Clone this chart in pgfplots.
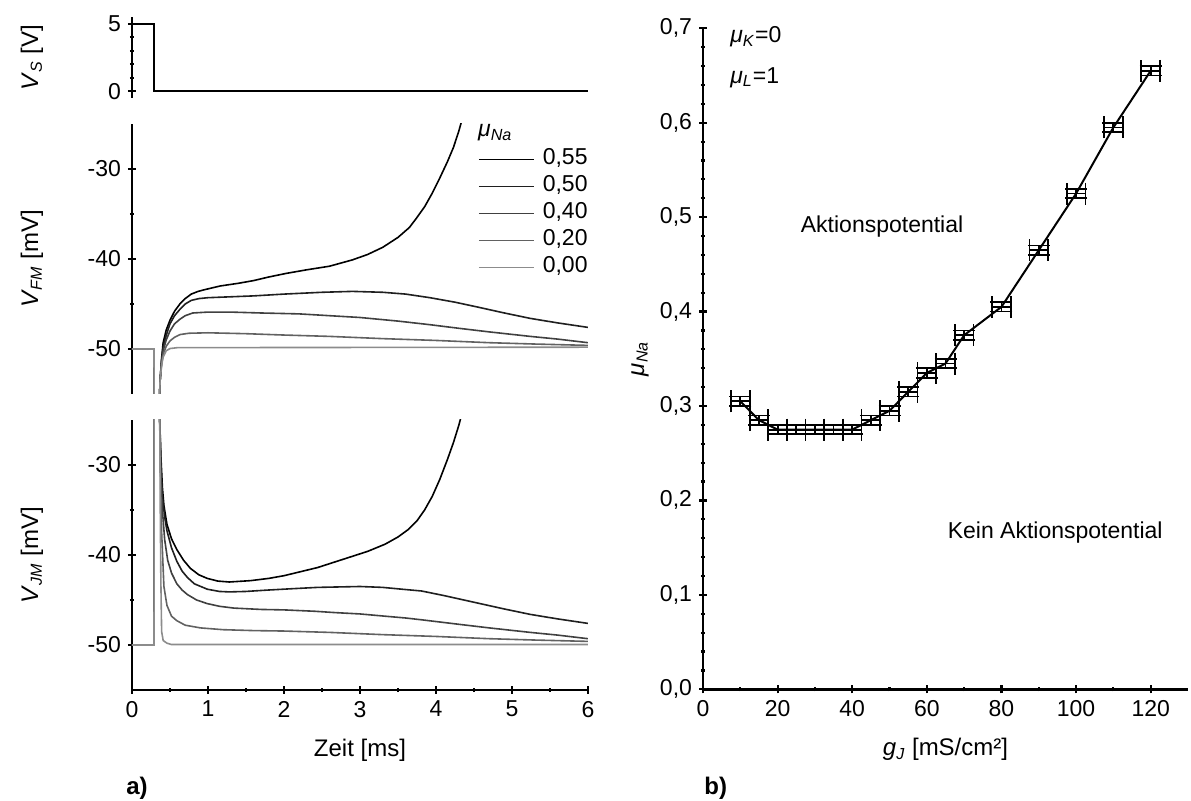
\documentclass[border=0pt]{standalone}
\usepackage{fontspec}
\setmainfont{Liberation Sans}
\usepackage{pgfplots}
\pgfplotsset{compat=1.18}
\newcommand{\sub}[1]{\textsubscript{\textit{#1}}}

\pgfplotsset{
  base/.style={
    scale only axis,
    tick align=outside,
    major tick length=4pt, minor tick length=2.2pt,
    tick style={black, line width=1.1pt},
    tick label style={font=\fontsize{11.5}{13}\selectfont},
    label style={font=\fontsize{12}{14}\selectfont},
    /pgf/number format/assume math mode=true,
  },
  thicklines/.style={
    axis line style={-, line width=1.3pt},
    every outer x axis line/.append style={-, line width=1.3pt},
    every outer y axis line/.append style={-, line width=1.3pt},
  },
  leftax/.style={
    base,
    width=228pt, xmin=0, xmax=6,
    axis y line=left,
    ylabel style={at={(axis description cs:-0.2193,0.5)}, anchor=center},
  },
  c55/.style={black, line width=0.8pt},
  c50/.style={black!88, line width=0.8pt},
  c40/.style={black!75, line width=0.8pt},
  c20/.style={black!62, line width=0.8pt},
  c00/.style={black!45, line width=0.8pt},
}

\begin{document}
\begin{tikzpicture}
\useasboundingbox (0,0) rectangle (595.5pt,-400.5pt);

% ---------- top: V_S ----------
\begin{axis}[leftax, at={(66pt,-8.5pt)}, anchor=north west, height=40.5pt,
  ymin=-0.5, ymax=5.5, ytick={0,5}, minor ytick={1,2,3,4}, axis x line=none,
  ylabel={\textit{V}\sub{S} [V]}, thicklines]
\addplot[black, line width=0.8pt] coordinates {(0,5) (0.29,5) (0.29,0) (6,0)};
\end{axis}

% ---------- middle: V_FM ----------
\begin{axis}[leftax, at={(66pt,-62pt)}, anchor=north west, height=135pt,
  ymin=-55, ymax=-25, ytick={-50,-40,-30}, minor ytick={-45,-35}, axis x line=none,
  ylabel={\textit{V}\sub{FM} [mV]}, thicklines,
  legend style={at={(axis cs:4.55,-27.42)}, anchor=north west, draw=none, fill=none,
    inner sep=0pt, row sep=0pt, font=\fontsize{11.5}{13}\selectfont,
    nodes={inner sep=0pt, text height=9pt, text depth=4.5pt},
    /tikz/every odd column/.style={column sep=4pt}},
  legend cell align=left,
  legend image code/.code={\draw[#1] (0pt,0pt) -- (27.5pt,0pt);}]
\addplot[c55] coordinates {(0,-50) (0.29,-50) (0.292,-75) (0.33,-75) (0.35,-58) (0.37,-53.5)
 (0.39,-51.0) (0.41,-49.3) (0.45,-47.9) (0.50,-46.8) (0.56,-45.8) (0.63,-45.0) (0.70,-44.4)
 (0.78,-43.9) (0.87,-43.6) (0.96,-43.4) (1.16,-43.0) (1.4,-42.7) (1.6,-42.4) (1.8,-42.0)
 (2.03,-41.6) (2.3,-41.2) (2.6,-40.8) (2.9,-40.1) (3.1,-39.5) (3.3,-38.7) (3.5,-37.6)
 (3.65,-36.5) (3.74,-35.5) (3.85,-34.2) (3.95,-32.7) (4.05,-31.0) (4.15,-29.2) (4.23,-27.6)
 (4.3,-25.8) (4.36,-24)};
\addlegendentry{0,55}
\addplot[c50] coordinates {(0,-50) (0.29,-50) (0.292,-75) (0.33,-75) (0.35,-58) (0.37,-53.5)
 (0.39,-51.2) (0.41,-49.8) (0.45,-48.5) (0.50,-47.2) (0.56,-46.3) (0.63,-45.6) (0.70,-45.0)
 (0.78,-44.6) (0.88,-44.4) (1.0,-44.3) (1.3,-44.2) (1.6,-44.1) (2.0,-43.9) (2.5,-43.7)
 (2.9,-43.6) (3.3,-43.7) (3.6,-43.9) (3.92,-44.3) (4.25,-44.8) (4.58,-45.4) (4.9,-46.0)
 (5.24,-46.6) (5.6,-47.1) (6,-47.6)};
\addlegendentry{0,50}
\addplot[c40] coordinates {(0,-50) (0.29,-50) (0.292,-75) (0.33,-75) (0.35,-58) (0.37,-53.5)
 (0.39,-51.4) (0.41,-50.2) (0.45,-49.0) (0.50,-48.0) (0.56,-47.2) (0.63,-46.7) (0.70,-46.3)
 (0.80,-46.0) (1.0,-45.9) (1.3,-45.9) (1.7,-46.0) (2.2,-46.1) (2.6,-46.3) (3.0,-46.5)
 (3.5,-46.9) (3.92,-47.3) (4.3,-47.7) (4.7,-48.1) (5.24,-48.6) (5.6,-48.9) (6,-49.3)};
\addlegendentry{0,40}
\addplot[c20] coordinates {(0,-50) (0.29,-50) (0.292,-75) (0.33,-75) (0.35,-58) (0.37,-53.5)
 (0.39,-51.6) (0.41,-50.6) (0.45,-49.7) (0.50,-49.1) (0.56,-48.7) (0.63,-48.4) (0.75,-48.25)
 (1.0,-48.2) (1.5,-48.3) (2.0,-48.45) (2.6,-48.6) (3.3,-48.85) (4.0,-49.05) (4.7,-49.3)
 (5.3,-49.45) (6,-49.6)};
\addlegendentry{0,20}
\addplot[c00] coordinates {(0,-50) (0.29,-50) (0.292,-75) (0.33,-75) (0.35,-58) (0.37,-53.5)
 (0.39,-51.8) (0.41,-50.9) (0.45,-50.2) (0.50,-49.95) (0.6,-49.85) (6,-49.8)};
\addlegendentry{0,00}
\node[anchor=west, inner sep=0pt, font=\fontsize{11.5}{13}\selectfont] at (axis cs:4.55,-26.0) {\textit{μ}\sub{Na}};
\end{axis}

% ---------- bottom: V_JM ----------
\begin{axis}[leftax, at={(66pt,-210pt)}, anchor=north west, height=135pt,
  ymin=-55, ymax=-25, ytick={-50,-40,-30}, minor ytick={-45,-35},
  axis x line=bottom, xtick={0,1,2,3,4,5,6}, minor x tick num=1,
  xlabel={Zeit [ms]},
  xlabel style={at={(axis description cs:0.5,0)}, yshift=-30pt, anchor=center},
  ylabel={\textit{V}\sub{JM} [mV]}, thicklines]
\addplot[c55] coordinates {(0,-50) (0.29,-50) (0.292,-5) (0.345,-5) (0.365,-25)
 (0.38,-29) (0.40,-32.5) (0.42,-34.5) (0.46,-36.6) (0.52,-38.2) (0.59,-39.4) (0.68,-40.6)
 (0.77,-41.5) (0.88,-42.2) (0.99,-42.6) (1.13,-42.9) (1.28,-43.0) (1.56,-42.85) (1.8,-42.6)
 (2.0,-42.3) (2.44,-41.4) (2.88,-40.2) (3.1,-39.6) (3.33,-38.8) (3.5,-38.0) (3.63,-37.2)
 (3.75,-36.2) (3.85,-35.0) (3.95,-33.5) (4.05,-31.6) (4.15,-29.4) (4.23,-27.5) (4.3,-25.6)
 (4.35,-24)};
\addplot[c50] coordinates {(0,-50) (0.29,-50) (0.292,-5) (0.345,-5) (0.365,-25)
 (0.38,-30) (0.40,-33.5) (0.43,-35.8) (0.46,-37.3) (0.52,-39.2) (0.59,-40.7) (0.66,-41.8)
 (0.73,-42.5) (0.82,-43.2) (0.99,-43.8) (1.15,-44.05) (1.28,-44.1) (1.5,-44.05) (1.78,-43.9)
 (2.1,-43.75) (2.44,-43.6) (3.0,-43.5) (3.3,-43.6) (3.55,-43.8) (3.81,-44.0) (4.1,-44.5)
 (4.58,-45.4) (4.9,-46.0) (5.24,-46.6) (5.6,-47.1) (6,-47.6)};
\addplot[c40] coordinates {(0,-50) (0.29,-50) (0.292,-5) (0.345,-5) (0.365,-25)
 (0.38,-31) (0.40,-35) (0.43,-38.3) (0.47,-40.6) (0.52,-42.0) (0.59,-43.2) (0.66,-43.9)
 (0.73,-44.4) (0.85,-45.0) (0.99,-45.4) (1.15,-45.7) (1.34,-45.9) (1.7,-46.05) (2.0,-46.1)
 (2.4,-46.25) (2.67,-46.4) (3.0,-46.55) (3.33,-46.8) (3.6,-47.0) (3.81,-47.2) (4.3,-47.7)
 (4.7,-48.1) (5.24,-48.6) (5.6,-48.9) (6,-49.3)};
\addplot[c20] coordinates {(0,-50) (0.29,-50) (0.292,-5) (0.345,-5) (0.365,-25)
 (0.375,-31) (0.39,-37.5) (0.42,-43.5) (0.46,-45.6) (0.52,-46.8) (0.59,-47.3) (0.7,-47.8)
 (0.9,-48.1) (1.2,-48.3) (1.6,-48.4) (2.0,-48.45) (2.6,-48.6) (3.3,-48.85) (4.0,-49.05)
 (4.7,-49.3) (5.3,-49.45) (6,-49.6)};
\addplot[c00] coordinates {(0,-50) (0.29,-50) (0.292,-5) (0.345,-5) (0.365,-25)
 (0.372,-35) (0.38,-43) (0.39,-48.5) (0.41,-49.5) (0.46,-49.8) (0.52,-49.95) (6,-49.95)};
\end{axis}

% ---------- right panel ----------
\begin{axis}[base, at={(351.5pt,-14.15pt)}, anchor=north west,
  width=242.5pt, height=330.5pt,
  xmin=0, xmax=130, ymin=0, ymax=0.7,
  axis x line=bottom, axis y line=left, thicklines,
  xtick={0,20,40,60,80,100,120}, minor x tick num=1,
  ytick={0,0.1,0.2,0.3,0.4,0.5,0.6,0.7}, minor y tick num=4,
  yticklabel style={/pgf/number format/.cd, fixed, fixed zerofill, precision=1, use comma},
  xlabel={\textit{g}\sub{J} [mS/cm²]},
  xlabel style={at={(axis description cs:0.5,0)}, yshift=-30pt, anchor=center},
  ylabel={\textit{μ}\sub{Na}},
  ylabel style={at={(axis description cs:-0.1299,0.5)}, anchor=center},
  clip=false]
\addplot[black, line width=1pt, mark=none,
  error bars/.cd, x dir=both, x fixed=2.5, y dir=both, y fixed=0.005,
  error bar style={line width=0.9pt, black},
  error mark options={rotate=90, mark size=5.5pt, line width=0.9pt, black}]
 coordinates {(10,0.305) (15,0.285) (20,0.275) (25,0.275) (30,0.275) (35,0.275) (40,0.275)
 (45,0.285) (50,0.295) (55,0.315) (60,0.335) (65,0.345) (70,0.375) (80,0.405) (90,0.465)
 (100,0.525) (110,0.595) (120,0.655)};
\node[anchor=west, inner sep=0pt, font=\fontsize{11.5}{13}\selectfont] at (axis cs:7.2,0.691) {\textit{μ}\sub{K}=0};
\node[anchor=west, inner sep=0pt, font=\fontsize{11.5}{13}\selectfont] at (axis cs:7.2,0.648) {\textit{μ}\sub{L}=1};
\node[inner sep=0pt, font=\fontsize{11.5}{13}\selectfont] at (axis cs:48,0.49) {Aktionspotential};
\node[inner sep=0pt, font=\fontsize{11.5}{13}\selectfont] at (axis cs:94.4,0.166) {Kein Aktionspotential};
\end{axis}

\node[anchor=west, inner sep=0pt, font=\bfseries\fontsize{12}{14}\selectfont] at (63pt,-394pt) {a)};
\node[anchor=west, inner sep=0pt, font=\bfseries\fontsize{12}{14}\selectfont] at (352pt,-394pt) {b)};
\end{tikzpicture}
\end{document}
